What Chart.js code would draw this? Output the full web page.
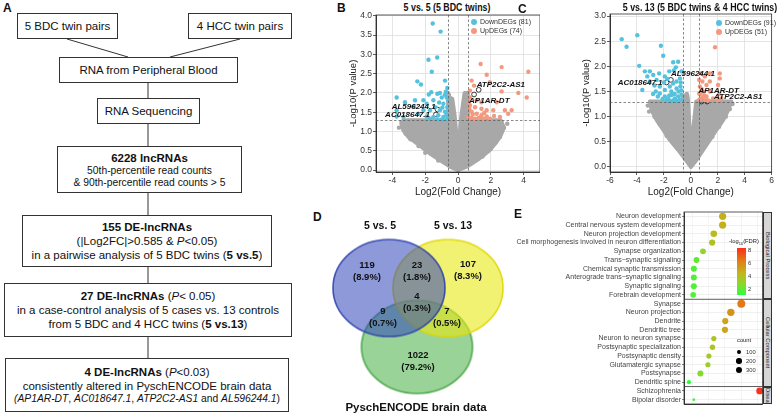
<!DOCTYPE html>
<html>
<head>
<meta charset="utf-8">
<script src="https://cdn.jsdelivr.net/npm/chart.js@4.4.0/dist/chart.umd.min.js"></script>
<style>
  body { margin: 0; width: 777px; height: 416px; position: relative; overflow: hidden; background: #fff;
         font-family: "Liberation Sans", Arial, sans-serif; color: #111; }
  .abs { position: absolute; }
  .box { position: absolute; box-sizing: border-box; border: 1px solid #333; text-align: center; white-space: nowrap;
         font-size: 11.5px; line-height: 14px; display: flex; flex-direction: column; justify-content: center; }
  .small { font-size: 10.3px; line-height: 12px; }
  .panel { position: absolute; font-weight: bold; font-size: 12px; }
  .ttl { position: absolute; font-weight: bold; font-size: 10.5px; text-align: center; white-space: nowrap;
         transform: scaleX(0.84); transform-origin: center; }
  .leg { position: absolute; font-size: 7px; color: #333; white-space: nowrap; line-height: 9px; }
  .leg i { display: inline-block; width: 6px; height: 6px; border-radius: 50%; margin-right: 3px; vertical-align: -1px; }
  .strip { position: absolute; box-sizing: border-box; background: #d6d6d6; border: 0.8px solid #333; overflow: hidden;
           writing-mode: vertical-rl; font-size: 5.8px; line-height: 7px; text-align: center; color: #222; }
  canvas { position: absolute; }
</style>
</head>
<body>

<!-- panel A: flow chart -->
<div class="panel" style="left:3px;top:1px">A</div>
<svg class="abs" style="left:0;top:0" width="300" height="416">
  <g stroke="#333" stroke-width="1">
    <line x1="67" y1="39" x2="128" y2="57"/>
    <line x1="240" y1="39" x2="170" y2="57"/>
    <line x1="148" y1="83" x2="148" y2="98"/>
    <line x1="148" y1="124" x2="148" y2="146"/>
    <line x1="148" y1="193" x2="148" y2="215"/>
    <line x1="148" y1="267" x2="148" y2="283"/>
    <line x1="148" y1="337" x2="148" y2="358"/>
  </g>
</svg>
<div class="box" style="left:17px;top:13px;width:101px;height:26px">5 BDC twin pairs</div>
<div class="box" style="left:188px;top:13px;width:104px;height:26px">4 HCC twin pairs</div>
<div class="box" style="left:59px;top:57px;width:179px;height:26px">RNA from Peripheral Blood</div>
<div class="box" style="left:97px;top:98px;width:103px;height:26px">RNA Sequencing</div>
<div class="box" style="left:57px;top:146px;width:185px;height:47px">
  <b>6228 lncRNAs</b>
  <span class="small">50th-percentile read counts</span>
  <span class="small">&amp; 90th-percentile read counts &gt; 5</span>
</div>
<div class="box" style="left:22px;top:215px;width:250px;height:52px">
  <b>155 DE-lncRNAs</b>
  <span>(|Log2FC|&gt;0.585 &amp; <i>P</i>&lt;0.05)</span>
  <span>in a pairwise analysis of 5 BDC twins (<b>5 vs.5</b>)</span>
</div>
<div class="box" style="left:4px;top:283px;width:288px;height:54px">
  <span><b>27 DE-lncRNAs</b> (<i>P</i>&lt; 0.05)</span>
  <span>in a case-control analysis of 5 cases vs. 13 controls</span>
  <span>from 5 BDC and 4 HCC twins (<b>5 vs.13</b>)</span>
</div>
<div class="box" style="left:5px;top:358px;width:284px;height:54px">
  <span><b>4 DE-lncRNAs</b> (<i>P</i>&lt;0.03)</span>
  <span>consistently altered in PyschENCODE brain data</span>
  <span class="small"><i>(AP1AR-DT</i>, <i>AC018647.1</i>, <i>ATP2C2-AS1</i> and <i>AL596244.1</i>)</span>
</div>

<!-- panel B -->
<div class="panel" style="left:337px;top:1px">B</div>
<div class="ttl" style="left:347px;top:1px;width:200px">5 vs. 5 (5 BDC twins)</div>
<canvas id="chartB" width="192" height="198" style="left:348px;top:0"></canvas>
<div class="leg" style="left:471px;top:17px"><i style="background:#56c1dc"></i>DownDEGs (81)</div>
<div class="leg" style="left:471px;top:26px"><i style="background:#f3997f"></i>UpDEGs (74)</div>

<!-- panel C -->
<div class="panel" style="left:518px;top:2px">C</div>
<div class="ttl" style="left:600px;top:1px;width:200px">5 vs. 13 (5 BDC twins &amp; 4 HCC twins)</div>
<canvas id="chartC" width="194" height="198" style="left:581px;top:0"></canvas>
<div class="leg" style="left:716px;top:18px"><i style="background:#56c1dc"></i>DownDEGs (91)</div>
<div class="leg" style="left:716px;top:27px"><i style="background:#f3997f"></i>UpDEGs (51)</div>

<!-- panel D -->
<div class="panel" style="left:313px;top:210px">D</div>
<canvas id="chartD" width="220" height="216" style="left:300px;top:200px"></canvas>

<!-- panel E -->
<div class="panel" style="left:514px;top:207px">E</div>
<canvas id="chartE" width="249" height="216" style="left:515px;top:200px"></canvas>
<div id="stripsE"></div>
<div id="legendE"></div>

<script>
// ---------- panel B: 5 vs. 5 volcano ----------
const downB = [
  [-1.54, 3.80], [-1.06, 3.59], [-1.80, 2.86], [-1.27, 2.92], [-1.60, 2.55], [-2.48, 2.30], [-2.26, 2.22],
  [-0.79, 2.32], [-0.65, 2.13], [-0.74, 2.03], [-1.10, 2.00], [-1.26, 1.98], [-1.63, 2.02], [-1.78, 1.96],
  [-3.74, 1.88], [-3.23, 1.76], [-2.62, 1.81], [-2.72, 1.65], [-3.74, 1.55], [-3.74, 1.39], [-3.33, 1.38],
  [-2.11, 1.81], [-1.91, 1.72], [-1.50, 1.81], [-0.99, 1.88], [-0.69, 1.88], [-0.89, 1.72], [-0.65, 1.63],
  [-1.10, 1.55], [-0.79, 1.51], [-1.71, 1.55], [-1.40, 1.63], [-2.11, 1.55], [-2.42, 1.46], [-1.91, 1.39],
  [-1.50, 1.38], [-1.20, 1.42], [-0.89, 1.38], [-0.65, 1.39], [-0.99, 1.31], [-0.69, 1.31], [-1.26, 1.31],
  [-1.71, 1.33], [-0.60, 1.81], [-0.70, 1.45], [-0.95, 1.62], [-1.15, 1.75], [-0.80, 1.95], [-0.62, 2.00]
];
const upB = [
  [1.38, 2.75], [2.66, 2.67], [4.29, 2.55], [1.75, 2.47], [1.95, 2.28], [0.83, 2.32], [0.98, 2.19],
  [0.73, 2.06], [2.66, 2.04], [3.68, 2.00], [4.19, 1.88], [0.73, 1.88], [1.14, 1.81], [1.43, 1.76],
  [2.36, 1.76], [0.73, 1.68], [1.04, 1.63], [1.43, 1.59], [1.75, 1.55], [2.15, 1.55], [2.86, 1.55],
  [3.27, 1.55], [2.56, 1.38], [3.06, 1.46], [0.83, 1.51], [1.14, 1.46], [1.43, 1.42], [1.75, 1.39],
  [0.83, 1.36], [1.04, 1.33], [1.34, 1.36], [1.55, 1.33], [1.95, 1.33], [0.63, 1.38], [0.69, 1.59],
  [0.65, 1.75], [1.25, 1.35], [0.90, 1.45], [1.60, 1.48], [2.20, 1.40], [0.70, 1.32]
];
const grayB = [
  [-3.60, 1.10], [-3.20, 0.95], [-2.90, 0.80], [-2.40, 0.62], [2.80, 1.10], [2.55, 0.85], [3.00, 1.20],
  [-0.45, 1.60], [-0.50, 1.75], [0.45, 1.65], [0.50, 1.90], [-2.00, 0.45], [2.00, 0.55], [-1.20, 0.25],
  [1.50, 0.35], [-3.45, 1.25], [2.65, 1.25], [-0.40, 1.45], [0.40, 1.45], [-0.55, 1.95]
];
const cloudB = [
  [0, 0], [-0.49, 0.09], [-1.10, 0.26], [-1.71, 0.43], [-2.22, 0.60], [-2.62, 0.73], [-3.03, 0.86],
  [-3.33, 1.03], [-3.45, 1.20], [-3.33, 1.29], [-0.60, 1.29], [-0.60, 1.90], [-0.35, 1.85], [-0.20, 1.40],
  [0, 0.45], [0.20, 1.40], [0.40, 2.00], [0.60, 2.00], [0.60, 1.29], [2.60, 1.29], [2.80, 1.10],
  [2.60, 0.90], [2.30, 0.70], [1.90, 0.50], [1.30, 0.30], [0.60, 0.10]
];
const genesB = [
  { name: 'AL596244.1', x: -1.24, y: 1.57 },
  { name: 'AC018647.1', x: -1.34, y: 1.44 },
  { name: 'ATP2C2-AS1', x: 1.26, y: 2.08 },
  { name: 'AP1AR-DT', x: 0.98, y: 1.96 }
];
const xTicksB = [-4, -2, 0, 2, 4];
const yTicksB = [0, 0.5, 1, 1.5, 2, 2.5, 3, 3.5, 4];

// ---------- panel C: 5 vs. 13 volcano ----------
const downC = [
  [-5.13, 2.54], [-4.77, 2.39], [-3.97, 2.62], [-2.22, 2.41], [-2.05, 2.21], [-3.83, 2.01], [-1.31, 2.08],
  [-0.94, 2.09], [-1.11, 1.98], [-3.41, 1.90], [-3.04, 1.90], [-2.79, 1.83], [-3.23, 1.80], [-2.35, 1.86],
  [-1.93, 1.80], [-1.60, 1.90], [-1.26, 1.92], [-3.04, 1.70], [-2.54, 1.73], [-3.60, 1.53], [-2.30, 1.60],
  [-1.93, 1.53], [-2.60, 1.50], [-2.30, 1.46], [-1.56, 1.60], [-1.31, 1.66], [-1.06, 1.70], [-0.81, 1.76],
  [-1.06, 1.56], [-0.77, 1.60], [-1.93, 1.40], [-1.68, 1.36], [-1.43, 1.43], [-1.19, 1.36], [-0.94, 1.40],
  [-0.69, 1.43], [-1.80, 1.33], [-1.31, 1.32], [-0.81, 1.33], [-0.69, 1.34], [-1.55, 1.31], [-1.05, 1.31],
  [-1.20, 1.45], [-0.90, 1.50], [-1.45, 1.50], [-0.70, 1.52], [-2.10, 1.35], [-2.45, 1.40], [-2.80, 1.45],
  [-1.60, 1.42], [-0.75, 1.68], [-2.00, 1.68], [-2.70, 1.62], [-0.70, 1.90], [-1.75, 1.75]
];
const upC = [
  [1.80, 2.38], [0.72, 1.86], [1.04, 1.80], [1.41, 1.86], [2.15, 1.86], [2.15, 1.76], [0.62, 1.73],
  [0.86, 1.70], [1.16, 1.63], [0.67, 1.60], [1.41, 1.70], [2.02, 1.63], [0.62, 1.46], [0.91, 1.50],
  [1.41, 1.50], [0.72, 1.36], [1.16, 1.40], [1.65, 1.36], [2.02, 1.33], [2.27, 1.36], [1.04, 1.33],
  [0.62, 1.33], [0.80, 1.55], [1.00, 1.42], [0.70, 1.45], [1.30, 1.32], [0.90, 1.38], [2.10, 1.45]
];
const grayC = [
  [-3.20, 1.22], [-2.70, 1.00], [-2.30, 0.85], [3.10, 1.25], [2.60, 1.00], [2.10, 0.80], [-0.40, 1.38],
  [-0.30, 1.45], [-1.80, 0.62], [1.60, 0.60], [-3.10, 1.10], [2.90, 1.15], [-0.55, 1.40]
];
const cloudC = [
  [0, 0], [-0.37, 0.14], [-0.94, 0.34], [-1.56, 0.54], [-2.05, 0.74], [-2.53, 0.93], [-2.91, 1.13],
  [-3.04, 1.30], [-0.60, 1.30], [-0.60, 1.42], [-0.25, 1.42], [-0.20, 1.30], [0, 0.30], [0.40, 1.30],
  [3.01, 1.30], [2.77, 1.13], [2.40, 0.93], [1.90, 0.74], [1.41, 0.54], [0.91, 0.34], [0.42, 0.14]
];
const genesC = [
  { name: 'AL596244.1', x: -1.48, y: 1.73 },
  { name: 'AC018647.1', x: -1.80, y: 1.68 },
  { name: 'AP1AR-DT', x: 0.79, y: 1.30 },
  { name: 'ATP2C2-AS1', x: 1.21, y: 1.30 }
];
const xTicksC = [-6, -4, -2, 0, 2, 4, 6];
const yTicksC = [0, 0.5, 1, 1.5, 2, 2.5, 3];

// cut-offs used for the dashed guide lines
const fcCut = 0.585;
const pCut = 1.301;

// ---------- panel D: Venn ----------
const vennSets = ['5 vs. 5', '5 vs. 13', 'PyschENCODE brain data'];
const vennCounts = [119, 23, 107, 9, 4, 7, 1022];
const vennPct = ['8.9%', '1.8%', '8.3%', '0.7%', '0.3%', '0.5%', '79.2%'];

// ---------- panel E: enrichment dot plot ----------
const goTerms = [
  'Neuron development', 'Central nervous system development', 'Neuron projection development',
  'Cell morphogenesis involved in neuron differentiation', 'Synapse organization', 'Trans\u2212synaptic signaling',
  'Chemical synaptic transmission', 'Anterograde trans\u2212synaptic signaling', 'Synaptic signaling',
  'Forebrain development',
  'Synapse', 'Neuron projection', 'Dendrite', 'Dendritic tree', 'Neuron to neuron synapse',
  'Postsynaptic specialization', 'Postsynaptic density', 'Glutamatergic synapse', 'Postsynapse', 'Dendritic spine',
  'Schizophrenia', 'Bipolar disorder'
];
const goGroups = ['Biological Process', 'Cellular Component', 'Disease'];
const goGroupSizes = [10, 10, 2];
const goX = [6.72, 6.72, 5.64, 5.44, 4.32, 3.52, 3.20, 3.20, 3.20, 3.12,
             9.00, 7.72, 7.04, 7.00, 5.64, 5.48, 5.04, 4.92, 4.00, 2.60,
             11.24, 3.20];
const goCount = [360, 360, 300, 265, 230, 230, 250, 250, 250, 215,
                 440, 375, 265, 265, 185, 200, 185, 185, 250, 120,
                 320, 55];
const goFDR = [4.8, 4.8, 4.3, 4.0, 3.0, 2.2, 1.9, 1.9, 1.9, 1.8,
               6.6, 5.8, 5.2, 5.1, 4.0, 3.9, 3.6, 3.5, 2.8, 1.3,
               8.4, 1.5];
const countLegend = [100, 200, 300];
const fdrLegend = [2, 4, 6, 8];

// ---------- shared look ----------
const BLUE = '#56c1dc';
const SALMON = '#f3997f';
const GRAY = '#a8a8a8';
Chart.defaults.font.family = '"Liberation Sans", Arial, sans-serif';
Chart.defaults.color = '#444';

const pts = arr => arr.map(([x, y]) => ({ x, y }));

// label placement for the highlighted genes (pixel offsets from the point)
const labelPos = {
  B: { 'AL596244.1': [-2, -3, 'right'], 'AC018647.1': [-6, 0, 'right'], 'ATP2C2-AS1': [-2, -5, 'left'], 'AP1AR-DT': [-5, 6, 'left'] },
  C: { 'AL596244.1': [0, -6, 'left'], 'AC018647.1': [-4, 0, 'right'], 'AP1AR-DT': [-3, -11, 'left'], 'ATP2C2-AS1': [7, -5, 'left'] }
};

const volcanoExtras = {
  id: 'volcanoExtras',
  beforeDatasetsDraw(chart, args, opts) {
    // dense grey cloud of non-significant genes
    const { ctx, scales: { x, y } } = chart;
    ctx.save();
    ctx.beginPath();
    opts.cloud.forEach(([vx, vy], i) => {
      const px = x.getPixelForValue(vx), py = y.getPixelForValue(vy);
      i ? ctx.lineTo(px, py) : ctx.moveTo(px, py);
    });
    ctx.closePath();
    ctx.fillStyle = GRAY;
    ctx.strokeStyle = GRAY;
    ctx.lineWidth = 4;
    ctx.lineJoin = 'round';
    ctx.fill();
    ctx.stroke();
    ctx.restore();
  },
  afterDatasetsDraw(chart, args, opts) {
    const { ctx, chartArea: a, scales: { x, y } } = chart;
    ctx.save();
    ctx.beginPath();
    ctx.rect(a.left, a.top, a.right - a.left, a.bottom - a.top);
    ctx.clip();
    // cut-off lines
    ctx.setLineDash([2.5, 2]);
    ctx.strokeStyle = '#555';
    ctx.lineWidth = 0.7;
    [-fcCut, fcCut].forEach(v => {
      const px = Math.round(x.getPixelForValue(v)) + 0.5;
      ctx.beginPath(); ctx.moveTo(px, a.top); ctx.lineTo(px, a.bottom); ctx.stroke();
    });
    const py = Math.round(y.getPixelForValue(pCut)) + 0.5;
    ctx.beginPath(); ctx.moveTo(a.left, py); ctx.lineTo(a.right, py); ctx.stroke();
    ctx.restore();

    // gene names
    ctx.save();
    ctx.font = 'italic bold 8px "Liberation Sans", Arial, sans-serif';
    ctx.fillStyle = '#111';
    ctx.textBaseline = 'middle';
    opts.genes.forEach(g => {
      const [dx, dy, align] = opts.pos[g.name];
      ctx.textAlign = align;
      ctx.fillText(g.name, x.getPixelForValue(g.x) + dx, y.getPixelForValue(g.y) + dy);
    });
    // frame
    ctx.strokeStyle = '#333';
    ctx.lineWidth = 0.8;
    ctx.strokeRect(a.left, a.top, a.right - a.left, a.bottom - a.top);
    ctx.restore();
  }
};

function makeVolcano(id, o) {
  return new Chart(document.getElementById(id), {
    type: 'scatter',
    data: {
      datasets: [
        { data: pts(o.gray), backgroundColor: GRAY, pointRadius: 2.2, borderWidth: 0 },
        { data: pts(o.down), backgroundColor: BLUE, pointRadius: 2.2, borderWidth: 0 },
        { data: pts(o.up), backgroundColor: SALMON, pointRadius: 2.2, borderWidth: 0 },
        { data: o.genes.map(g => ({ x: g.x, y: g.y })), backgroundColor: 'rgba(0,0,0,0)',
          borderColor: '#222', borderWidth: 0.9, pointRadius: 2.4 }
      ]
    },
    options: {
      responsive: false,
      animation: false,
      devicePixelRatio: 1,
      layout: { autoPadding: false, padding: { top: o.padTop, left: 0, right: 0, bottom: 0 } },
      plugins: {
        legend: { display: false },
        tooltip: { enabled: false },
        volcanoExtras: { cloud: o.cloud, genes: o.genes, pos: o.pos }
      },
      scales: {
        x: {
          type: 'linear', min: o.xMin, max: o.xMax,
          afterBuildTicks: s => { s.ticks = o.xTicks.map(v => ({ value: v })); },
          afterFit: s => { s.height = 26; },
          grid: { color: '#dedede', lineWidth: 0.8, tickLength: 3, tickColor: '#333' },
          border: { color: '#333' },
          ticks: { font: { size: 8.5 }, color: '#333', padding: 1, callback: v => String(v) },
          title: { display: true, text: 'Log2(Fold Change)', font: { size: 10 }, color: '#222', padding: 0 }
        },
        y: {
          type: 'linear', min: o.yMin, max: o.yMax,
          afterBuildTicks: s => { s.ticks = o.yTicks.map(v => ({ value: v })); },
          afterFit: s => { s.width = o.yWidth; },
          grid: { color: '#dedede', lineWidth: 0.8, tickLength: 3, tickColor: '#333' },
          border: { color: '#333' },
          ticks: { font: { size: 8.5 }, color: '#333', padding: 1, callback: v => v.toFixed(1) },
          title: { display: true, text: '-Log10(P value)', font: { size: 9.5 }, color: '#222', padding: 0 }
        }
      }
    },
    plugins: [volcanoExtras]
  });
}

makeVolcano('chartB', {
  gray: grayB, down: downB, up: upB, cloud: cloudB, genes: genesB, pos: labelPos.B,
  xMin: -5, xMax: 5, yMin: -0.05, yMax: 4.02, xTicks: xTicksB, yTicks: yTicksB, padTop: 15, yWidth: 28
});
makeVolcano('chartC', {
  gray: grayC, down: downC, up: upC, cloud: cloudC, genes: genesC, pos: labelPos.C,
  xMin: -6, xMax: 6, yMin: -0.1, yMax: 3.04, xTicks: xTicksC, yTicks: yTicksC, padTop: 14, yWidth: 29
});

// ---------- Venn (D) ----------
// layout in canvas pixels: centre x, centre y, width, height
const vennShapes = [
  { cx: 89, cy: 88, w: 112, h: 97, fill: 'rgba(50,70,185,0.55)', stroke: 'rgba(40,60,170,0.85)' },
  { cx: 148, cy: 88, w: 110, h: 97, fill: 'rgba(232,232,20,0.6)', stroke: 'rgba(225,215,0,0.9)' },
  { cx: 117, cy: 147, w: 111, h: 93, fill: 'rgba(70,175,65,0.55)', stroke: 'rgba(60,160,60,0.85)' }
];
const vennNamePos = [[80, 26], [153, 26], [116, 208]];
const vennCountPos = [[67, 71], [117, 71], [168, 70], [83, 117], [117, 102], [147, 117], [118, 161]];

function ellipseImage(s) {
  const c = document.createElement('canvas');
  c.width = s.w + 4; c.height = s.h + 4;
  const g = c.getContext('2d');
  g.beginPath();
  g.ellipse(c.width / 2, c.height / 2, s.w / 2, s.h / 2, 0, 0, Math.PI * 2);
  g.fillStyle = s.fill; g.fill();
  g.lineWidth = 1.6; g.strokeStyle = s.stroke; g.stroke();
  return c;
}

const vennText = {
  id: 'vennText',
  afterDatasetsDraw(chart) {
    const { ctx, scales: { x, y } } = chart;
    ctx.save();
    ctx.fillStyle = '#111';
    ctx.textAlign = 'center';
    ctx.textBaseline = 'middle';
    ctx.font = 'bold 9.5px "Liberation Sans", Arial, sans-serif';
    vennCounts.forEach((n, i) => {
      const px = x.getPixelForValue(vennCountPos[i][0]), py = y.getPixelForValue(vennCountPos[i][1]);
      ctx.fillText(String(n), px, py - 6);
      ctx.fillText('(' + vennPct[i] + ')', px, py + 6);
    });
    vennSets.forEach((name, i) => {
      ctx.font = (i === 2 ? 'bold 11.5px ' : 'bold 10.5px ') + '"Liberation Sans", Arial, sans-serif';
      ctx.fillText(name, x.getPixelForValue(vennNamePos[i][0]), y.getPixelForValue(vennNamePos[i][1]));
    });
    ctx.restore();
  }
};

new Chart(document.getElementById('chartD'), {
  type: 'scatter',
  data: {
    datasets: vennShapes.map((s, i) => ({
      label: vennSets[i],
      data: [{ x: s.cx, y: s.cy }],
      pointStyle: ellipseImage(s),
      pointRadius: 50,
      clip: false
    }))
  },
  options: {
    responsive: false, animation: false, devicePixelRatio: 1,
    layout: { autoPadding: false, padding: 0 },
    plugins: { legend: { display: false }, tooltip: { enabled: false } },
    scales: {
      x: { type: 'linear', min: 0, max: 220, display: false },
      y: { type: 'linear', min: 0, max: 216, reverse: true, display: false }
    }
  },
  plugins: [vennText]
});

// ---------- dot plot (E) ----------
const fdrStops = [[1.2, [43, 255, 63]], [3, [142, 214, 42]], [4.5, [192, 184, 28]], [6.5, [226, 125, 22]], [8.5, [255, 42, 26]]];
const fdrColor = v => {
  for (let i = 1; i < fdrStops.length; i++) {
    const [v0, c0] = fdrStops[i - 1], [v1, c1] = fdrStops[i];
    if (v <= v1 || i === fdrStops.length - 1) {
      const t = Math.max(0, Math.min(1, (v - v0) / (v1 - v0)));
      return 'rgb(' + c0.map((c, k) => Math.round(c + (c1[k] - c) * t)).join(',') + ')';
    }
  }
};
const dotRadius = n => 3.3 * Math.sqrt(n / 300);

const facetLines = {
  id: 'facetLines',
  afterDraw(chart) {
    const { ctx, chartArea: a, scales: { y } } = chart;
    ctx.save();
    ctx.strokeStyle = '#333';
    ctx.lineWidth = 0.8;
    ctx.strokeRect(a.left, a.top, a.right - a.left, a.bottom - a.top);
    let idx = 0;
    goGroupSizes.slice(0, -1).forEach(n => {
      idx += n;
      const py = (y.getPixelForValue(idx - 1) + y.getPixelForValue(idx)) / 2;
      ctx.beginPath(); ctx.moveTo(a.left, py); ctx.lineTo(a.right, py); ctx.stroke();
    });
    ctx.restore();
  }
};

const chartE = new Chart(document.getElementById('chartE'), {
  type: 'bubble',
  data: {
    datasets: [{
      data: goTerms.map((t, i) => ({ x: goX[i], y: t, r: dotRadius(goCount[i]) })),
      backgroundColor: goFDR.map(fdrColor),
      borderWidth: 0,
      clip: false
    }]
  },
  options: {
    responsive: false, animation: false, devicePixelRatio: 1,
    layout: { autoPadding: false, padding: { top: 12, left: 0, right: 0, bottom: 0 } },
    plugins: { legend: { display: false }, tooltip: { enabled: false } },
    scales: {
      y: {
        type: 'category', labels: goTerms, offset: true,
        afterFit: s => { s.width = 169; },
        grid: { offset: false, color: '#e6e6e6', lineWidth: 0.6, tickLength: 2, tickColor: '#333' },
        border: { color: '#333' },
        ticks: { autoSkip: false, font: { size: 7 }, color: '#444', padding: 1 }
      },
      x: {
        type: 'linear', min: 2, max: 11.6,
        afterBuildTicks: s => { s.ticks = [3, 4, 5, 6, 7, 8, 9, 10, 11].map(v => ({ value: v })); },
        afterFit: s => { s.height = 12; },
        grid: {
          color: '#e6e6e6',
          lineWidth: c => (c.tick && c.tick.value % 2 ? 0.4 : 0.7),
          tickLength: 2,
          tickColor: c => (c.tick && c.tick.value % 2 ? 'rgba(0,0,0,0)' : '#333')
        },
        border: { color: '#333' },
        ticks: { font: { size: 6.5 }, color: '#444', padding: 1, callback: v => (v % 2 ? '' : String(v)) }
      }
    }
  },
  plugins: [facetLines]
});

// facet strips and legends for E, placed from the chart's own scales
(function () {
  const cv = document.getElementById('chartE');
  const ox = cv.offsetLeft, oy = cv.offsetTop;
  const a = chartE.chartArea, y = chartE.scales.y;
  const strips = document.getElementById('stripsE');
  let idx = 0, top = a.top;
  goGroups.forEach((g, k) => {
    idx += goGroupSizes[k];
    const bottom = k === goGroups.length - 1 ? a.bottom : (y.getPixelForValue(idx - 1) + y.getPixelForValue(idx)) / 2;
    const d = document.createElement('div');
    d.className = 'strip';
    d.style.cssText = `left:${ox + a.right}px;top:${oy + top}px;width:9px;height:${bottom - top}px`;
    d.textContent = g;
    strips.appendChild(d);
    top = bottom;
  });

  const leg = document.getElementById('legendE');
  // colour bar: value range of the scale
  const vTop = 8.46, vBot = 1.23, barTop = 248, barH = 47;
  const grad = fdrStops.slice().reverse()
    .map(([v]) => `${fdrColor(v)} ${((vTop - v) / (vTop - vBot) * 100).toFixed(1)}%`).join(',');
  let html = `<div class="abs" style="left:729px;top:238px;font-size:5.8px;color:#222;white-space:nowrap">-log<sub style="font-size:4px">10</sub>(FDR)</div>`;
  html += `<div class="abs" style="left:737px;top:${barTop}px;width:9px;height:${barH}px;background:linear-gradient(to bottom,${grad})"></div>`;
  fdrLegend.forEach(v => {
    const ty = barTop + (vTop - v) / (vTop - vBot) * barH;
    html += `<div class="abs" style="left:748px;top:${ty - 3.5}px;font-size:5.8px;line-height:7px;color:#333">${v}</div>`;
  });
  html += `<div class="abs" style="left:737px;top:337px;font-size:5.8px;color:#222">count</div>`;
  countLegend.forEach((n, i) => {
    const r = dotRadius(n), cy = 352 + i * 9;
    html += `<div class="abs" style="left:${739 - r}px;top:${cy - r}px;width:${2 * r}px;height:${2 * r}px;border-radius:50%;background:#000"></div>`;
    html += `<div class="abs" style="left:746px;top:${cy - 3.5}px;font-size:5.8px;line-height:7px;color:#333">${n}</div>`;
  });
  leg.innerHTML = html;
})();
</script>
</body>
</html>
